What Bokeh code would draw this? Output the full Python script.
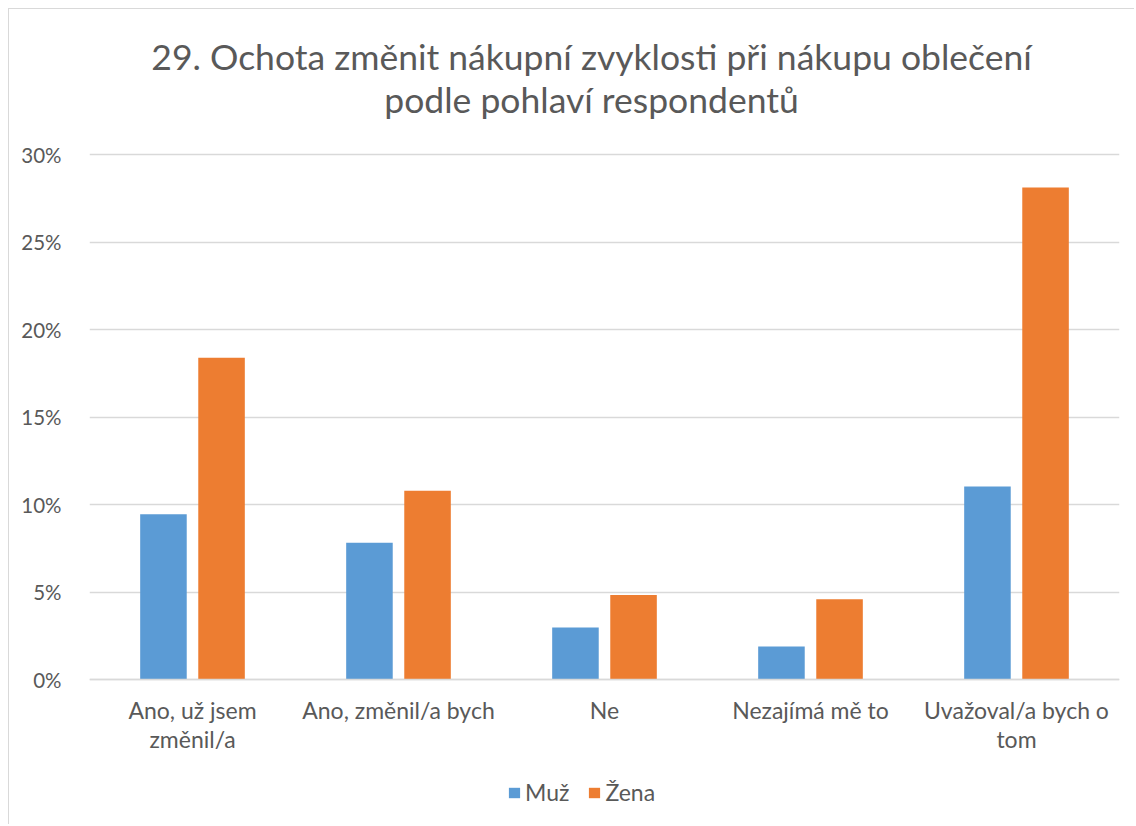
import json
from bokeh.plotting import figure
from bokeh.models import (FactorRange, Range1d, FixedTicker, NumeralTickFormatter,
                          Legend, LegendItem, ColumnDataSource, CategoricalAxis,
                          CustomJSTickFormatter, Label)
from bokeh.transform import dodge
from bokeh.embed import file_html
from bokeh.resources import INLINE

categories = ["Ano, už jsem změnil/a", "Ano, změnil/a bych", "Ne",
              "Nezajímá mě to", "Uvažoval/a bych o tom"]
label_line1 = ["Ano, už jsem", "Ano, změnil/a bych", "Ne",
               "Nezajímá mě to", "Uvažoval/a bych o"]
label_line2 = ["změnil/a", "", "", "", "tom"]
muz = [0.0944, 0.0781, 0.0297, 0.0188, 0.1103]
zena = [0.1839, 0.1078, 0.0483, 0.0458, 0.2811]
series_names = ["Muž", "Žena"]
y_ticks = [0, 0.05, 0.10, 0.15, 0.20, 0.25, 0.30]
title_line1 = "29. Ochota změnit nákupní zvyklosti při nákupu oblečení"
title_line2 = "podle pohlaví respondentů"

FONT = "Lato"
GRAY = "#595959"
BLUE = "#5B9BD5"
ORANGE = "#ED7D31"
TICK_SIZE = "23px"

# layout (pixels): the frame spans the whole chart height so that titles,
# category labels and the legend can live inside it
PX_PER_UNIT = 525 / 0.30          # 30 % spans 525 px
Y_TOP = 0.30 + 138 / PX_PER_UNIT  # space above the 30 % line (titles)
Y_BOTTOM = -131 / PX_PER_UNIT     # space below the 0 % line (labels, legend)


def label_formatter(lines):
    mapping = json.dumps(dict(zip(categories, lines)), ensure_ascii=False)
    return CustomJSTickFormatter(code="const m = %s; return m[tick];" % mapping)


src = ColumnDataSource(dict(cat=categories, muz=muz, zena=zena))

p = figure(x_range=FactorRange(*categories), y_range=Range1d(Y_BOTTOM, Y_TOP),
           width=1126, height=816, output_backend="svg", toolbar_location=None,
           title=None, min_border_left=80, min_border_right=16, min_border_top=7,
           min_border_bottom=15)
p.styles = {"border-left": "1px solid #D9D9D9", "border-top": "1px solid #D9D9D9",
            "margin-left": "8px", "margin-top": "8px"}
p.outline_line_color = None

title_x = 2.437  # in category units, slightly left of the frame centre
for txt, ty in [(title_line1, 0.30 + 98 / PX_PER_UNIT),
                (title_line2, 0.30 + 55 / PX_PER_UNIT)]:
    p.add_layout(Label(x=title_x, y=ty, text=txt, text_align="center",
                       text_baseline="alphabetic", text_font=FONT,
                       text_font_size="35.5px", text_color=GRAY))

r1 = p.vbar(x=dodge("cat", -0.141, range=p.x_range), top="muz", width=0.226,
            source=src, fill_color=BLUE, line_color=None)
r2 = p.vbar(x=dodge("cat", 0.141, range=p.x_range), top="zena", width=0.226,
            source=src, fill_color=ORANGE, line_color=None)

p.yaxis.ticker = FixedTicker(ticks=y_ticks)
p.yaxis.formatter = NumeralTickFormatter(format="0%")
p.yaxis.axis_line_color = None
p.yaxis.major_tick_line_color = None
p.yaxis.minor_tick_line_color = None
p.yaxis.major_label_standoff = 22
p.yaxis.major_label_text_font = FONT
p.yaxis.major_label_text_font_size = "20.5px"
p.yaxis.major_label_text_color = GRAY

xa = p.xaxis[0]
xa.fixed_location = 0
xa.axis_line_color = "#D9D9D9"
xa.axis_line_width = 1.3
xa.major_tick_line_color = None
xa.minor_tick_line_color = None
xa.major_label_standoff = 10
xa.major_label_text_font = FONT
xa.major_label_text_font_size = TICK_SIZE
xa.major_label_text_color = GRAY
xa.formatter = label_formatter(label_line1)

xa2 = CategoricalAxis(fixed_location=0, axis_line_color=None,
                      major_tick_line_color=None, minor_tick_line_color=None,
                      major_label_standoff=39, major_label_text_font=FONT,
                      major_label_text_font_size=TICK_SIZE,
                      major_label_text_color=GRAY,
                      formatter=label_formatter(label_line2))
p.add_layout(xa2, "below")

p.xgrid.grid_line_color = None
p.ygrid.grid_line_color = "#D9D9D9"
p.ygrid.grid_line_width = 1.3

legend = Legend(items=[LegendItem(label=series_names[0], renderers=[r1]),
                       LegendItem(label=series_names[1], renderers=[r2])],
                orientation="horizontal", location=(418, 4),
                label_text_font=FONT, label_text_font_size=TICK_SIZE,
                label_text_color=GRAY, glyph_width=14, glyph_height=13,
                label_standoff=4, spacing=18, border_line_color=None,
                background_fill_alpha=0, margin=0, padding=0)
p.add_layout(legend, "center")

open("out.html", "w").write(file_html(p, INLINE))
